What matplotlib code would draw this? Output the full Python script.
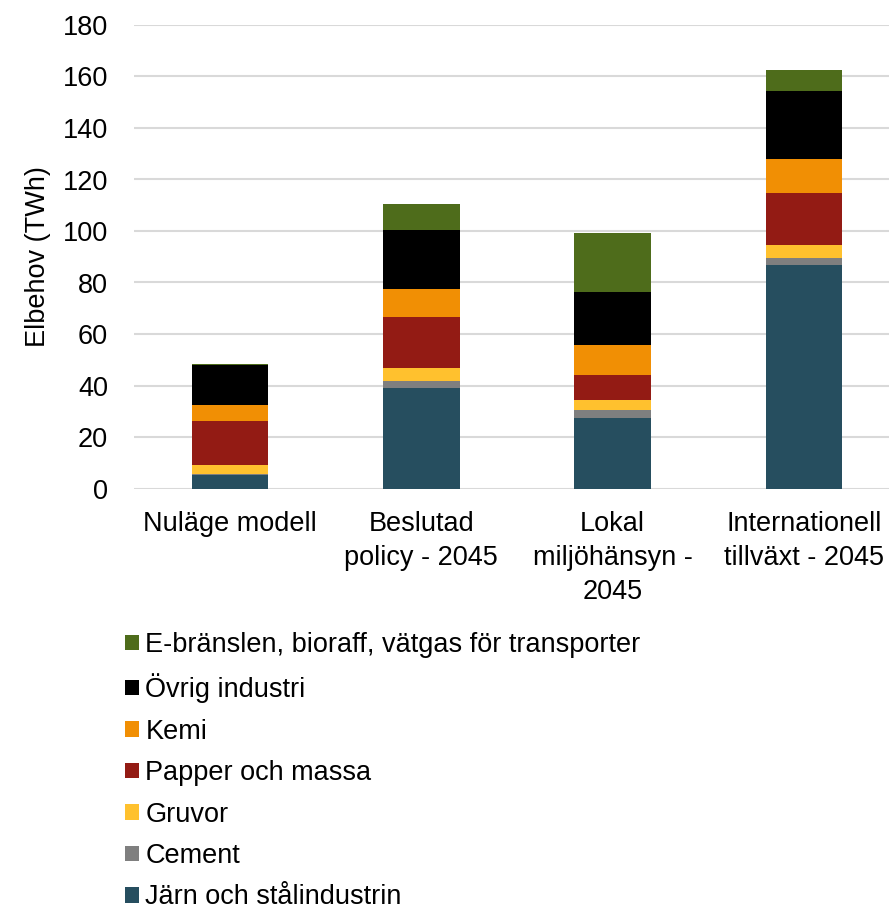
import matplotlib.pyplot as plt
import numpy as np

plt.rcParams["font.family"] = ["Liberation Sans", "DejaVu Sans"]

# --- data
scenarios = [
    "Nuläge modell",
    "Beslutad\npolicy - 2045",
    "Lokal\nmiljöhänsyn -\n2045",
    "Internationell\ntillväxt - 2045",
]
series_names = [
    "Järn och stålindustrin",
    "Cement",
    "Gruvor",
    "Papper och massa",
    "Kemi",
    "Övrig industri",
    "E-bränslen, bioraff, vätgas för transporter",
]
jarn_stal = [5.2, 38.9, 27.2, 86.8]
cement = [0.3, 2.7, 3.1, 2.7]
gruvor = [3.6, 5.3, 3.9, 5.2]
papper_massa = [17.2, 19.7, 9.7, 20.0]
kemi = [6.1, 10.8, 12.0, 13.2]
ovrig_industri = [15.5, 23.1, 20.4, 26.6]
e_branslen = [0.4, 10.0, 22.9, 8.2]

colors = ["#264E5F", "#7F7F7F", "#FFC12E", "#931B14", "#F18F04", "#000000", "#4E6C1B"]

values = [jarn_stal, cement, gruvor, papper_massa, kemi, ovrig_industri, e_branslen]

# --- plot
fig = plt.figure(figsize=(8.89, 9.05), dpi=100)
W, H = 889, 905
ax = fig.add_axes([134.3 / W, 1 - 488.5 / H, (889 - 134.3) / W, (488.5 - 25) / H])

x = np.arange(len(scenarios))
bottom = np.zeros(len(scenarios))
handles = []
for name, vals, col in zip(series_names, values, colors):
    h = ax.bar(x, vals, width=0.4, bottom=bottom, color=col, label=name, zorder=3)
    handles.append(h)
    bottom += np.array(vals)

fs = 19.5
ax.set_ylim(0, 180)
ax.set_xlim(-0.5, -0.5 + (889 - 134.3) / 191.3)
ax.set_yticks(np.arange(0, 181, 20))
ax.set_xticks(x)
ax.set_xticklabels(scenarios, fontsize=fs, linespacing=1.4)
ax.tick_params(axis="y", labelsize=fs, length=0, pad=19)
ax.tick_params(axis="x", length=0, pad=16)
ax.yaxis.grid(True, color="#d9d9d9", linewidth=1.5, zorder=0)
for s in ax.spines.values():
    s.set_visible(False)
ax.set_ylabel("Elbehov (TWh)", fontsize=fs, labelpad=8)

fig.legend(
    handles[::-1],
    series_names[::-1],
    loc="upper left",
    bbox_to_anchor=(125 / W, 1 - 632 / H),
    frameon=False,
    fontsize=fs,
    handlelength=0.5,
    handleheight=0.5,
    handletextpad=0.25,
    labelspacing=0.57,
    borderaxespad=0,
    borderpad=0,
)

fig.savefig("out.png", dpi=100)
